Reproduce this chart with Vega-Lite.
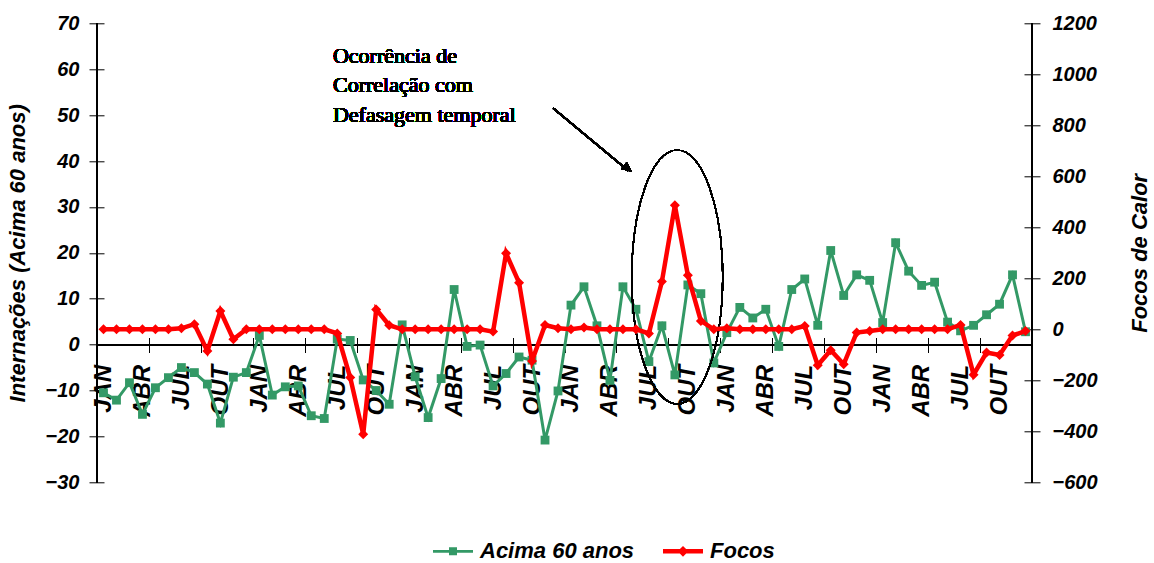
{
  "$schema": "https://vega.github.io/schema/vega-lite/v6.json",
  "width": 935,
  "height": 459,
  "autosize": {"type": "none"},
  "padding": {"left": 97, "top": 23.3, "right": 122, "bottom": 80.7},
  "background": "white",
  "config": {
    "view": {"stroke": null},
    "axis": {"grid": false, "labelFont": "Liberation Sans", "titleFont": "Liberation Sans", "labelColor": "black", "titleColor": "black", "tickColor": "black", "tickWidth": 1}
  },
  "data": {
    "values": [
      {"i": 0, "ac": -10.5, "fo": 0}, {"i": 1, "ac": -12.1, "fo": 0}, {"i": 2, "ac": -8.3, "fo": 0},
      {"i": 3, "ac": -15.2, "fo": 0}, {"i": 4, "ac": -9.4, "fo": 0}, {"i": 5, "ac": -7.2, "fo": 0},
      {"i": 6, "ac": -5.0, "fo": 4}, {"i": 7, "ac": -6.1, "fo": 20}, {"i": 8, "ac": -8.6, "fo": -85},
      {"i": 9, "ac": -17.1, "fo": 72}, {"i": 10, "ac": -7.1, "fo": -39}, {"i": 11, "ac": -6.1, "fo": 0},
      {"i": 12, "ac": 2.0, "fo": 0}, {"i": 13, "ac": -11.0, "fo": 0}, {"i": 14, "ac": -9.2, "fo": 0},
      {"i": 15, "ac": -9.0, "fo": 0}, {"i": 16, "ac": -15.5, "fo": 0}, {"i": 17, "ac": -16.1, "fo": 0},
      {"i": 18, "ac": 1.2, "fo": -16}, {"i": 19, "ac": 0.9, "fo": -189}, {"i": 20, "ac": -7.7, "fo": -412},
      {"i": 21, "ac": -10.0, "fo": 78}, {"i": 22, "ac": -13.0, "fo": 16}, {"i": 23, "ac": 4.3, "fo": 0},
      {"i": 24, "ac": -7.0, "fo": 0}, {"i": 25, "ac": -15.9, "fo": 0}, {"i": 26, "ac": -7.4, "fo": 0},
      {"i": 27, "ac": 12.0, "fo": 0}, {"i": 28, "ac": -0.4, "fo": 0}, {"i": 29, "ac": -0.1, "fo": 0},
      {"i": 30, "ac": -9.0, "fo": -9}, {"i": 31, "ac": -6.3, "fo": 298}, {"i": 32, "ac": -2.7, "fo": 183},
      {"i": 33, "ac": -3.4, "fo": -124}, {"i": 34, "ac": -20.8, "fo": 17}, {"i": 35, "ac": -10.1, "fo": 4},
      {"i": 36, "ac": 8.6, "fo": 0}, {"i": 37, "ac": 12.6, "fo": 7}, {"i": 38, "ac": 4.1, "fo": 0},
      {"i": 39, "ac": -7.8, "fo": 0}, {"i": 40, "ac": 12.6, "fo": 0}, {"i": 41, "ac": 7.7, "fo": 0},
      {"i": 42, "ac": -3.7, "fo": -16}, {"i": 43, "ac": 4.1, "fo": 187}, {"i": 44, "ac": -6.6, "fo": 486},
      {"i": 45, "ac": 13.0, "fo": 212}, {"i": 46, "ac": 11.1, "fo": 33}, {"i": 47, "ac": -4.0, "fo": 0},
      {"i": 48, "ac": 2.6, "fo": 4}, {"i": 49, "ac": 8.1, "fo": 0}, {"i": 50, "ac": 5.8, "fo": 0},
      {"i": 51, "ac": 7.7, "fo": 0}, {"i": 52, "ac": -0.4, "fo": 0}, {"i": 53, "ac": 12.0, "fo": 0},
      {"i": 54, "ac": 14.3, "fo": 13}, {"i": 55, "ac": 4.2, "fo": -141}, {"i": 56, "ac": 20.5, "fo": -82},
      {"i": 57, "ac": 10.7, "fo": -137}, {"i": 58, "ac": 15.2, "fo": -13}, {"i": 59, "ac": 14.0, "fo": -7},
      {"i": 60, "ac": 4.8, "fo": 0}, {"i": 61, "ac": 22.2, "fo": 0}, {"i": 62, "ac": 16.0, "fo": 0},
      {"i": 63, "ac": 12.9, "fo": 0}, {"i": 64, "ac": 13.6, "fo": 0}, {"i": 65, "ac": 4.9, "fo": 0},
      {"i": 66, "ac": 3.0, "fo": 17}, {"i": 67, "ac": 4.2, "fo": -178}, {"i": 68, "ac": 6.5, "fo": -91},
      {"i": 69, "ac": 8.8, "fo": -101}, {"i": 70, "ac": 15.2, "fo": -24}, {"i": 71, "ac": 2.8, "fo": -7}
    ]
  },
  "layer": [
    {
      "layer": [
        {"mark": {"type": "rule", "color": "black", "strokeWidth": 1}, "encoding": {"y": {"datum": 0, "type": "quantitative"}}},
        {"mark": {"type": "rule", "color": "black", "strokeWidth": 1}, "encoding": {"x": {"datum": -0.5, "type": "quantitative"}}},
        {"mark": {"type": "rule", "color": "black", "strokeWidth": 1}, "encoding": {"x": {"datum": 71.5, "type": "quantitative"}}},
        {
          "mark": {"type": "line", "color": "#339966", "strokeWidth": 3},
          "encoding": {
            "x": {
              "field": "i", "type": "quantitative",
              "scale": {"domain": [-0.5, 71.5], "nice": false, "zero": false},
              "axis": {
                "orient": "bottom", "title": null,
                "values": [0, 3, 6, 9, 12, 15, 18, 21, 24, 27, 30, 33, 36, 39, 42, 45, 48, 51, 54, 57, 60, 63, 66, 69],
                "labelExpr": "['JAN','ABR','JUL','OUT'][(datum.value/3)%4]",
                "ticks": false, "tickSize": 0, "domain": false, "offset": -137,
                "labelAngle": 270, "labelAlign": "right", "labelBaseline": "middle", "labelPadding": 19,
                "labelFontSize": 24, "labelFontWeight": "bold", "labelFontStyle": "italic",
                "labelOverlap": false, "labelBound": false, "labelFlush": false
              }
            },
            "y": {
              "field": "ac", "type": "quantitative",
              "scale": {"domain": [-30, 70], "nice": false, "zero": false},
              "axis": {
                "orient": "left", "values": [-30, -20, -10, 0, 10, 20, 30, 40, 50, 60, 70],
                "domain": false, "tickSize": 15, "offset": -7, "labelPadding": 10,
                "labelFontSize": 20, "labelFontWeight": "bold", "labelFontStyle": "italic",
                "title": "Internações (Acima 60 anos)", "titleFontSize": 22, "titleFontWeight": "bold", "titleFontStyle": "italic", "titlePadding": 16
              }
            }
          }
        },
        {
          "mark": {"type": "point", "shape": "square", "filled": true, "size": 78, "color": "#339966", "opacity": 1},
          "encoding": {"x": {"field": "i", "type": "quantitative"}, "y": {"field": "ac", "type": "quantitative"}}
        },
        {
          "mark": {"type": "text", "text": ["Ocorrência de", "Correlação com", "Defasagem temporal"], "align": "left", "baseline": "alphabetic", "font": "Liberation Serif", "fontSize": 22, "fontWeight": "normal", "lineHeight": 29.5, "color": "black"},
          "encoding": {"x": {"datum": 17.67, "type": "quantitative"}, "y": {"datum": 61.44, "type": "quantitative"}}
        },
        {
          "mark": {"type": "rule", "color": "black", "strokeWidth": 1.5},
          "encoding": {"x": {"datum": 34.64, "type": "quantitative"}, "x2": {"datum": 40.4}, "y": {"datum": 51.48, "type": "quantitative"}, "y2": {"datum": 37.9}}
        },
        {
          "mark": {"type": "point", "shape": "M0,0L-1,-0.45L-1,0.45Z", "filled": true, "size": 400, "angle": 39, "color": "black", "opacity": 1},
          "encoding": {"x": {"datum": 40.67, "type": "quantitative"}, "y": {"datum": 37.67, "type": "quantitative"}}
        },
        {
          "mark": {"type": "point", "shape": "M0.358,0C0.358,0.552,0.198,1,0,1C-0.198,1,-0.358,0.552,-0.358,0C-0.358,-0.552,-0.198,-1,0,-1C0.198,-1,0.358,-0.552,0.358,0Z", "filled": false, "size": 64516, "color": "black", "strokeWidth": 1.2, "opacity": 1},
          "encoding": {"x": {"datum": 44.18, "type": "quantitative"}, "y": {"datum": 14.73, "type": "quantitative"}}
        }
      ]
    },
    {
      "layer": [
        {
          "mark": {"type": "line", "color": "#FF0000", "strokeWidth": 4.5},
          "encoding": {
            "x": {
              "field": "i", "type": "quantitative",
              "axis": {
                "orient": "bottom", "title": null,
                "values": [-0.5, 0.5, 1.5, 2.5, 3.5, 4.5, 5.5, 6.5, 7.5, 8.5, 9.5, 10.5, 11.5, 12.5, 13.5, 14.5, 15.5, 16.5, 17.5, 18.5, 19.5, 20.5, 21.5, 22.5, 23.5, 24.5, 25.5, 26.5, 27.5, 28.5, 29.5, 30.5, 31.5, 32.5, 33.5, 34.5, 35.5, 36.5, 37.5, 38.5, 39.5, 40.5, 41.5, 42.5, 43.5, 44.5, 45.5, 46.5, 47.5, 48.5, 49.5, 50.5, 51.5, 52.5, 53.5, 54.5, 55.5, 56.5, 57.5, 58.5, 59.5, 60.5, 61.5, 62.5, 63.5, 64.5, 65.5, 66.5, 67.5, 68.5, 69.5, 70.5, 71.5],
                "labels": false, "domain": false, "tickSize": 15, "offset": -144.8
              }
            },
            "y": {
              "field": "fo", "type": "quantitative",
              "scale": {"domain": [-600, 1200], "nice": false, "zero": false},
              "axis": {
                "orient": "right", "values": [-600, -400, -200, 0, 200, 400, 600, 800, 1000, 1200], "format": "d",
                "domain": false, "tickSize": 16, "offset": -8, "labelPadding": 12,
                "labelFontSize": 20, "labelFontWeight": "bold", "labelFontStyle": "italic",
                "title": "Focos de Calor", "titleFontSize": 22, "titleFontWeight": "bold", "titleFontStyle": "italic",
                "titleAngle": 270, "titleBaseline": "top", "titlePadding": 32
              }
            }
          }
        },
        {
          "mark": {"type": "point", "shape": "diamond", "filled": true, "size": 100, "color": "#FF0000", "opacity": 1},
          "encoding": {"x": {"field": "i", "type": "quantitative"}, "y": {"field": "fo", "type": "quantitative"}}
        }
      ]
    },
    {
      "data": {"values": [{"serie": "Acima 60 anos"}, {"serie": "Focos"}]},
      "transform": [{"filter": "false"}],
      "mark": {"type": "point", "filled": true, "opacity": 1},
      "encoding": {
        "color": {
          "field": "serie", "type": "nominal",
          "scale": {"domain": ["Acima 60 anos", "Focos"], "range": ["#339966", "#FF0000"]},
          "legend": {"orient": "none", "legendX": 336, "legendY": 508, "direction": "horizontal", "title": null, "labelFont": "Liberation Sans", "labelFontSize": 22, "labelFontWeight": "bold", "labelFontStyle": "italic", "labelColor": "black", "labelLimit": 300, "symbolSize": 1600, "labelOffset": 7, "columnPadding": 28, "symbolStrokeWidth": 0, "symbolOpacity": 1}
        },
        "shape": {
          "field": "serie", "type": "nominal",
          "scale": {"domain": ["Acima 60 anos", "Focos"], "range": ["M-1,-0.07H1V0.07H-1ZM-0.2,-0.2H0.2V0.2H-0.2Z", "M-1,-0.11H1V0.11H-1ZM0,-0.27L0.27,0L0,0.27L-0.27,0Z"]},
          "legend": {"orient": "none", "legendX": 336, "legendY": 508, "direction": "horizontal", "title": null, "labelFont": "Liberation Sans", "labelFontSize": 22, "labelFontWeight": "bold", "labelFontStyle": "italic", "labelColor": "black", "labelLimit": 300, "symbolSize": 1600, "labelOffset": 7, "columnPadding": 28, "symbolStrokeWidth": 0, "symbolOpacity": 1}
        }
      }
    }
  ],
  "resolve": {"scale": {"y": "independent"}, "axis": {"x": "independent", "y": "independent"}}
}
